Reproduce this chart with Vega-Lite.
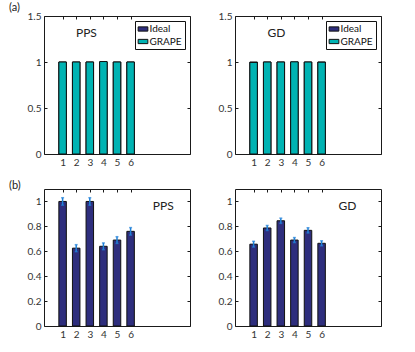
{
  "$schema": "https://vega.github.io/schema/vega-lite/v6.json",
  "padding": {"left": 8, "top": 1, "right": 0, "bottom": 0},
  "background": "white",
  "config": {
    "font": "Lato",
    "view": {"stroke": "#1a1a1a", "strokeWidth": 1},
    "axis": {"domain": false, "grid": false, "labelFontSize": 10, "labelColor": "#333333", "tickColor": "#1a1a1a", "tickSize": -3, "title": null, "labelPadding": 6},
    "title": {"fontSize": 11, "fontWeight": "normal", "anchor": "start", "frame": "group", "dx": -35, "offset": -2, "color": "#222222"},
    "legend": {"title": null, "orient": "top-right", "offset": 5, "strokeColor": "#111111", "fillColor": "white", "padding": 2.5, "symbolType": "M-1,-0.44H1V0.44H-1Z", "symbolSize": 94, "symbolStrokeColor": "#111111", "symbolStrokeWidth": 1, "labelFontSize": 10, "labelColor": "#111111", "labelOffset": 1, "rowPadding": 1.5, "cornerRadius": 0, "symbolOpacity": 1}
  },
  "datasets": {
    "ppsTop": [
      {"k": 1, "s": "Ideal", "v": 1}, {"k": 2, "s": "Ideal", "v": 1}, {"k": 3, "s": "Ideal", "v": 1},
      {"k": 4, "s": "Ideal", "v": 1}, {"k": 5, "s": "Ideal", "v": 1}, {"k": 6, "s": "Ideal", "v": 1},
      {"k": 1, "s": "GRAPE", "v": 1}, {"k": 2, "s": "GRAPE", "v": 1}, {"k": 3, "s": "GRAPE", "v": 1},
      {"k": 4, "s": "GRAPE", "v": 1.005}, {"k": 5, "s": "GRAPE", "v": 1}, {"k": 6, "s": "GRAPE", "v": 1}
    ],
    "gdTop": [
      {"k": 1, "s": "Ideal", "v": 1}, {"k": 2, "s": "Ideal", "v": 1}, {"k": 3, "s": "Ideal", "v": 1},
      {"k": 4, "s": "Ideal", "v": 1}, {"k": 5, "s": "Ideal", "v": 1}, {"k": 6, "s": "Ideal", "v": 1},
      {"k": 1, "s": "GRAPE", "v": 0.995}, {"k": 2, "s": "GRAPE", "v": 1}, {"k": 3, "s": "GRAPE", "v": 1},
      {"k": 4, "s": "GRAPE", "v": 1.002}, {"k": 5, "s": "GRAPE", "v": 1}, {"k": 6, "s": "GRAPE", "v": 0.998}
    ],
    "ppsBot": [
      {"k": 1, "v": 1.0, "e": 0.03}, {"k": 2, "v": 0.625, "e": 0.028}, {"k": 3, "v": 1.0, "e": 0.03},
      {"k": 4, "v": 0.64, "e": 0.027}, {"k": 5, "v": 0.69, "e": 0.027}, {"k": 6, "v": 0.76, "e": 0.03}
    ],
    "gdBot": [
      {"k": 1, "v": 0.657, "e": 0.023}, {"k": 2, "v": 0.787, "e": 0.02}, {"k": 3, "v": 0.845, "e": 0.021},
      {"k": 4, "v": 0.69, "e": 0.02}, {"k": 5, "v": 0.768, "e": 0.021}, {"k": 6, "v": 0.664, "e": 0.02}
    ]
  },
  "vconcat": [
    {
      "hconcat": [
        {
          "width": 146, "height": 138,
          "title": "(a)",
          "layer": [
            {
              "data": {"name": "ppsTop"},
              "mark": {"type": "bar", "size": 7.5, "stroke": "#111111", "strokeWidth": 1},
              "encoding": {
                "x": {"field": "k", "type": "quantitative", "scale": {"domain": [0, 10], "nice": false}, "axis": {"orient": "bottom", "values": [1, 2, 3, 4, 5, 6], "format": "d"}},
                "y": {"field": "v", "type": "quantitative", "stack": null, "scale": {"domain": [0, 1.5], "nice": false}, "axis": {"orient": "left", "values": [0, 0.5, 1, 1.5], "format": "~g"}},
                "color": {"field": "s", "type": "nominal", "scale": {"domain": ["Ideal", "GRAPE"], "range": ["#2e2e7d", "#00b3b3"]}}
              }
            },
            {
              "data": {"values": [{}]},
              "mark": {"type": "text", "fontSize": 12, "align": "center", "baseline": "middle", "color": "#222222"},
              "encoding": {
                "x": {"datum": 2.75, "type": "quantitative", "axis": {"orient": "top", "values": [1, 2, 3, 4, 5, 6], "labels": false}},
                "y": {"datum": 1.32, "type": "quantitative", "axis": {"orient": "right", "values": [0, 0.5, 1, 1.5], "labels": false}},
                "text": {"value": "PPS"}
              }
            }
          ],
          "resolve": {"axis": {"x": "independent", "y": "independent"}}
        },
        {
          "width": 146, "height": 138,
          "layer": [
            {
              "data": {"name": "gdTop"},
              "mark": {"type": "bar", "size": 7.5, "stroke": "#111111", "strokeWidth": 1},
              "encoding": {
                "x": {"field": "k", "type": "quantitative", "scale": {"domain": [0, 10], "nice": false}, "axis": {"orient": "bottom", "values": [1, 2, 3, 4, 5, 6], "format": "d"}},
                "y": {"field": "v", "type": "quantitative", "stack": null, "scale": {"domain": [0, 1.5], "nice": false}, "axis": {"orient": "left", "values": [0, 0.5, 1, 1.5], "format": "~g"}},
                "color": {"field": "s", "type": "nominal", "scale": {"domain": ["Ideal", "GRAPE"], "range": ["#2e2e7d", "#00b3b3"]}}
              }
            },
            {
              "data": {"values": [{}]},
              "mark": {"type": "text", "fontSize": 12, "align": "center", "baseline": "middle", "color": "#222222"},
              "encoding": {
                "x": {"datum": 2.68, "type": "quantitative", "axis": {"orient": "top", "values": [1, 2, 3, 4, 5, 6], "labels": false}},
                "y": {"datum": 1.32, "type": "quantitative", "axis": {"orient": "right", "values": [0, 0.5, 1, 1.5], "labels": false}},
                "text": {"value": "GD"}
              }
            }
          ],
          "resolve": {"axis": {"x": "independent", "y": "independent"}}
        }
      ],
      "spacing": 26,
      "resolve": {"scale": {"color": "independent"}, "legend": {"color": "independent"}}
    },
    {
      "hconcat": [
        {
          "width": 146, "height": 137,
          "title": "(b)",
          "layer": [
            {
              "data": {"name": "ppsBot"},
              "mark": {"type": "bar", "size": 7.5, "stroke": "#111111", "strokeWidth": 1, "fill": "#2e2e7d"},
              "encoding": {
                "x": {"field": "k", "type": "quantitative", "scale": {"domain": [0, 10], "nice": false}, "axis": {"orient": "bottom", "values": [1, 2, 3, 4, 5, 6], "format": "d"}},
                "y": {"field": "v", "type": "quantitative", "scale": {"domain": [0, 1.1], "nice": false}, "axis": {"orient": "left", "values": [0, 0.2, 0.4, 0.6, 0.8, 1], "format": "~g"}}
              }
            },
            {
              "data": {"name": "ppsBot"},
              "mark": {"type": "errorbar", "color": "#1f80d8", "thickness": 1.5, "ticks": {"size": 3, "thickness": 1.5}},
              "encoding": {
                "x": {"field": "k", "type": "quantitative", "axis": null},
                "y": {"field": "v", "type": "quantitative", "axis": null},
                "yError": {"field": "e"}
              }
            },
            {
              "data": {"values": [{}]},
              "mark": {"type": "text", "fontSize": 12, "align": "center", "baseline": "middle", "color": "#222222"},
              "encoding": {
                "x": {"datum": 8.4, "type": "quantitative", "axis": {"orient": "top", "values": [1, 2, 3, 4, 5, 6], "labels": false}},
                "y": {"datum": 0.96, "type": "quantitative", "axis": {"orient": "right", "values": [0, 0.2, 0.4, 0.6, 0.8, 1], "labels": false}},
                "text": {"value": "PPS"}
              }
            }
          ],
          "resolve": {"axis": {"x": "independent", "y": "independent"}}
        },
        {
          "width": 146, "height": 137,
          "layer": [
            {
              "data": {"name": "gdBot"},
              "mark": {"type": "bar", "size": 7.5, "stroke": "#111111", "strokeWidth": 1, "fill": "#2e2e7d"},
              "encoding": {
                "x": {"field": "k", "type": "quantitative", "scale": {"domain": [0, 10], "nice": false}, "axis": {"orient": "bottom", "values": [1, 2, 3, 4, 5, 6], "format": "d"}},
                "y": {"field": "v", "type": "quantitative", "scale": {"domain": [0, 1.1], "nice": false}, "axis": {"orient": "left", "values": [0, 0.2, 0.4, 0.6, 0.8, 1], "format": "~g"}}
              }
            },
            {
              "data": {"name": "gdBot"},
              "mark": {"type": "errorbar", "color": "#1f80d8", "thickness": 1.5, "ticks": {"size": 3, "thickness": 1.5}},
              "encoding": {
                "x": {"field": "k", "type": "quantitative", "axis": null},
                "y": {"field": "v", "type": "quantitative", "axis": null},
                "yError": {"field": "e"}
              }
            },
            {
              "data": {"values": [{}]},
              "mark": {"type": "text", "fontSize": 12, "align": "center", "baseline": "middle", "color": "#222222"},
              "encoding": {
                "x": {"datum": 7.9, "type": "quantitative", "axis": {"orient": "top", "values": [1, 2, 3, 4, 5, 6], "labels": false}},
                "y": {"datum": 0.96, "type": "quantitative", "axis": {"orient": "right", "values": [0, 0.2, 0.4, 0.6, 0.8, 1], "labels": false}},
                "text": {"value": "GD"}
              }
            }
          ],
          "resolve": {"axis": {"x": "independent", "y": "independent"}}
        }
      ],
      "spacing": 26
    }
  ],
  "spacing": 11
}
